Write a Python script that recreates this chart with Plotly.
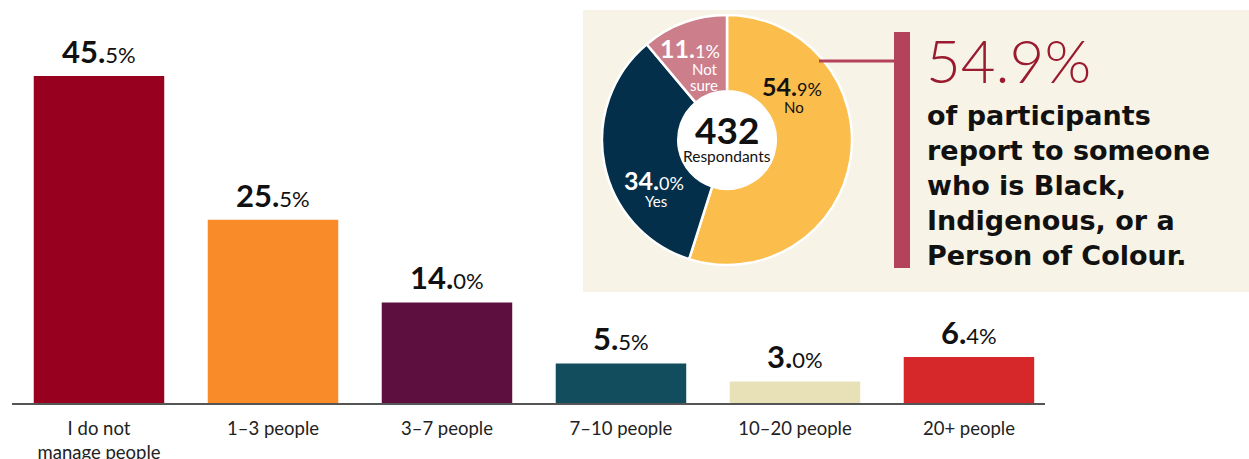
import plotly.graph_objects as go

# --- data -------------------------------------------------------------
bar_categories = ["I do not<br>manage people", "1–3 people", "3–7 people",
                  "7–10 people", "10–20 people", "20+ people"]
bar_values = [45.5, 25.5, 14.0, 5.5, 3.0, 6.4]
bar_colors = ["#98001F", "#F98C28", "#5D0F40", "#124D5D", "#E8E1B7", "#D6282A"]

pie_labels = ["No", "Yes", "Not sure"]
pie_values = [54.9, 34.0, 11.1]
pie_colors = ["#FBBD4B", "#042F4A", "#CC7E8B"]
respondents = 432

callout_value = 54.9
callout_text = ("of participants<br>report to someone<br>who is Black,<br>"
                "Indigenous, or a<br>Person of Colour.")

# --- layout helpers (pixel -> paper) ----------------------------------
W, H = 1249, 459
FONT = "Lato"


def px(x):
    return x / W


def py(y):
    return 1 - y / H


def pct_label(v, small):
    whole, dec = f"{v:.1f}".split(".")
    return f"<b>{whole}.</b><span style='font-size:{small}px'>{dec}%</span>"


fig = go.Figure()

# bar chart
fig.add_trace(go.Bar(
    x=list(range(len(bar_values))),
    y=bar_values,
    marker=dict(color=bar_colors, line=dict(width=0)),
    width=0.75,
    hoverinfo="skip",
    showlegend=False,
))

# donut chart
fig.add_trace(go.Pie(
    labels=pie_labels,
    values=pie_values,
    marker=dict(colors=pie_colors, line=dict(color="white", width=2.5)),
    hole=0.39,
    sort=False,
    direction="clockwise",
    rotation=0,
    textinfo="none",
    hoverinfo="skip",
    showlegend=False,
    domain=dict(x=[px(727 - 125), px(727 + 125)], y=[py(140 + 125), py(140 - 125)]),
))

annotations = []

# value labels above bars
for i, v in enumerate(bar_values):
    annotations.append(dict(
        x=i, y=v, xref="x", yref="y",
        text=pct_label(v, 22),
        showarrow=False, yanchor="bottom", yshift=4,
        font=dict(family=FONT, size=31, color="#111111"),
    ))

# donut slice labels: (x, y of value, anchor, colour, name lines)
slice_specs = [
    (792, 86, "center", "#111111", ["No"]),
    (654, 180, "center", "white", ["Yes"]),
    (721, 48, "right", "white", ["Not", "sure"]),
]
for v, (x, y, anchor, col, lines) in zip(pie_values, slice_specs):
    annotations.append(dict(
        x=px(x), y=py(y), xref="paper", yref="paper",
        text=pct_label(v, 18), showarrow=False,
        xanchor=anchor, yanchor="middle", borderpad=0,
        font=dict(family=FONT, size=25, color=col),
    ))
    for k, line in enumerate(lines):
        annotations.append(dict(
            x=px(x + (2 if anchor == "center" else -2)), y=py(y + 21 + 16 * k),
            xref="paper", yref="paper",
            text=line, showarrow=False, xanchor=anchor, yanchor="middle",
            borderpad=0,
            font=dict(family=FONT, size=15, color=col),
        ))

# donut centre
annotations.append(dict(
    x=px(727), y=py(129), xref="paper", yref="paper",
    text=f"<b>{respondents}</b>", showarrow=False, yanchor="middle",
    borderpad=0,
    font=dict(family=FONT, size=37, color="#111111"),
))
annotations.append(dict(
    x=px(727), y=py(156), xref="paper", yref="paper",
    text="Respondants", showarrow=False, yanchor="middle",
    borderpad=0,
    font=dict(family=FONT, size=15.5, color="#111111"),
))

# callout
annotations.append(dict(
    x=px(924), y=py(60), xref="paper", yref="paper",
    text=f"{callout_value:.1f}%", showarrow=False,
    xanchor="left", yanchor="middle",
    font=dict(family=FONT, size=60, color="#9A1B2F", weight=300),
))
annotations.append(dict(
    x=px(925), y=py(98), xref="paper", yref="paper",
    text=callout_text, showarrow=False, align="left",
    xanchor="left", yanchor="top",
    font=dict(family="DejaVu Sans", size=27, color="#111111", weight=700),
))

shapes = [
    # panel background
    dict(type="rect", xref="paper", yref="paper", layer="below",
         x0=px(583), x1=1, y0=py(292), y1=py(10),
         fillcolor="#F7F3E6", line=dict(width=0)),
    # white centre of donut
    dict(type="circle", xref="paper", yref="paper", layer="below",
         x0=px(727 - 49), x1=px(727 + 49), y0=py(140 + 49), y1=py(140 - 49),
         fillcolor="white", line=dict(width=0)),
    # connector
    dict(type="line", xref="paper", yref="paper",
         x0=px(819), x1=px(896), y0=py(61), y1=py(61),
         line=dict(color="#B3425A", width=3)),
    dict(type="rect", xref="paper", yref="paper",
         x0=px(894), x1=px(910), y0=py(268), y1=py(32),
         fillcolor="#B3425A", line=dict(width=0)),
]

fig.update_layout(
    width=W, height=H,
    margin=dict(l=0, r=0, t=0, b=0, autoexpand=False),
    paper_bgcolor="white",
    plot_bgcolor="rgba(0,0,0,0)",
    font=dict(family=FONT, color="#222222"),
    bargap=0.25,
    annotations=annotations,
    shapes=shapes,
    xaxis=dict(
        domain=[px(12), px(1045)],
        range=[-0.5, 5.437],
        tickmode="array",
        tickvals=list(range(len(bar_categories))),
        ticktext=bar_categories,
        tickfont=dict(family=FONT, size=18.5, color="#222222"),
        ticks="",
        ticklabelstandoff=8,
        automargin=False,
        showline=True, linecolor="#555555", linewidth=2,
        showgrid=False, zeroline=False, fixedrange=True,
    ),
    yaxis=dict(
        domain=[1 - 403 / H, 1],
        range=[0, 403 / (327 / 45.5)],
        automargin=False,
        visible=False, showgrid=False, zeroline=False, fixedrange=True,
    ),
)

fig.write_html("out.html")
